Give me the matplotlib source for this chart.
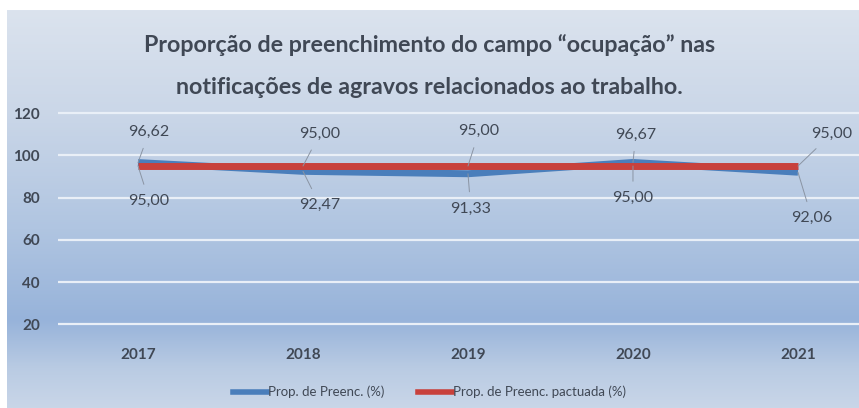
import numpy as np
import matplotlib
matplotlib.use("Agg")
import matplotlib.pyplot as plt
from matplotlib.colors import LinearSegmentedColormap
from matplotlib.lines import Line2D

years = ["2017", "2018", "2019", "2020", "2021"]
prop_preenc = [96.62, 92.47, 91.33, 96.67, 92.06]
prop_pactuada = [95.00, 95.00, 95.00, 95.00, 95.00]
yticks = [20, 40, 60, 80, 100, 120]
title_lines = ["Proporção de preenchimento do campo “ocupação” nas",
               "notificações de agravos relacionados ao trabalho."]

FONT = ["Lato", "DejaVu Sans"]
plt.rcParams["font.family"] = FONT
TXT = "#404855"
BLUE = "#4a7ebb"
RED = "#c8413c"

W, H = 859, 408
fig = plt.figure(figsize=(W / 100, H / 100), dpi=100)
fig.patch.set_facecolor("white")

# background gradient panel
bg = fig.add_axes([7 / W, 0, 1 - 7 / W, 1 - 10 / H], zorder=0)
cmap = LinearSegmentedColormap.from_list(
    "bg",
    [(0.0, "#dbe3ee"), (0.25, "#cbd7e8"), (0.55, "#b0c5e1"), (0.78, "#97b3da"),
     (0.90, "#b9cbe3"), (1.0, "#c9d6e8")])
grad = np.linspace(0, 1, 256).reshape(-1, 1)
bg.imshow(grad, aspect="auto", cmap=cmap, extent=[0, 1, 0, 1], origin="upper")
bg.set_axis_off()

ax = fig.add_axes([58 / W, 1 - 340 / H, 1 - 58 / W, (340 - 108) / H], zorder=1)
ax.patch.set_alpha(0)
x = np.arange(len(years))

for t in yticks:
    ax.axhline(t, color="#e9eff7", lw=1.6, zorder=1)

ax.plot(x, prop_preenc, color=BLUE, lw=5, solid_capstyle="butt", zorder=3,
        label="Prop. de Preenc. (%)")
ax.plot(x, prop_pactuada, color=RED, lw=5, solid_capstyle="butt", zorder=4,
        label="Prop. de Preenc. pactuada (%)")

ax.set_xlim(-0.485, 4.37)
ax.set_ylim(12.5, 122.5)
ax.set_yticks(yticks)
ax.set_xticks(x)
ax.set_xticklabels(years)
for s in ax.spines.values():
    s.set_visible(False)
ax.tick_params(axis="both", length=0, colors=TXT, labelsize=11)
ax.tick_params(axis="y", pad=13)
ax.tick_params(axis="x", pad=6)
for lbl in ax.get_xticklabels() + ax.get_yticklabels():
    lbl.set_fontweight("bold")

def fmt(v):
    return f"{v:.2f}".replace(".", ",")

# label offsets (points) for each data label
blue_off = [(8, 22), (12, -24), (2, -25), (2, 20), (10, -33)]
red_off = [(8, -25), (12, 23), (8, 25), (0, -23), (24, 23)]
arrow = dict(arrowstyle="-", color="#8a94a3", lw=0.7, shrinkA=5, shrinkB=0)
for i in range(len(years)):
    ax.annotate(fmt(prop_preenc[i]), (x[i], prop_preenc[i]), xytext=blue_off[i],
                textcoords="offset points", ha="center", va="center",
                fontsize=11.5, color=TXT, arrowprops=arrow, zorder=5)
    ax.annotate(fmt(prop_pactuada[i]), (x[i], prop_pactuada[i]), xytext=red_off[i],
                textcoords="offset points", ha="center", va="center",
                fontsize=11.5, color=TXT, arrowprops=arrow, zorder=5)

# title: fit first line to ~572 px width
renderer = fig.canvas.get_renderer()
t1 = fig.text(0.5, 1 - 45 / H, title_lines[0], ha="center", va="center",
              fontsize=18, fontweight="bold", color=TXT)
w = t1.get_window_extent(renderer).width
fs = 18 * 572 / w
t1.set_fontsize(fs)
fig.text(0.5, 1 - 88 / H, title_lines[1], ha="center", va="center",
         fontsize=fs, fontweight="bold", color=TXT)

handles = [Line2D([], [], color=BLUE, lw=4), Line2D([], [], color=RED, lw=4)]
fig.legend(handles, ["Prop. de Preenc. (%)", "Prop. de Preenc. pactuada (%)"],
           loc="center", bbox_to_anchor=(0.5, 1 - 392 / H), ncol=2, frameon=False,
           fontsize=9.5, labelcolor=TXT, handlelength=2.6, handletextpad=0.1,
           columnspacing=2.5)

fig.savefig("out.png", dpi=100)
